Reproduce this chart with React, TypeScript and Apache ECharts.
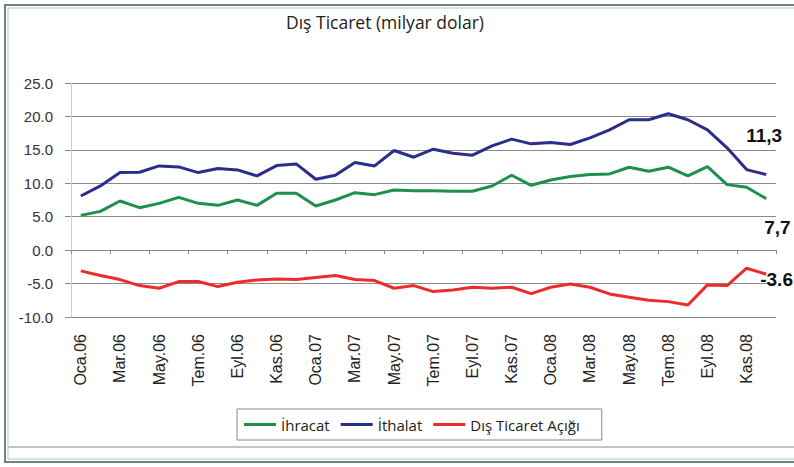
import React, { useEffect, useRef } from "react";
import * as echarts from "echarts";

const monthNames = ["Oca", "Şub", "Mar", "Nis", "May", "Haz", "Tem", "Ağu", "Eyl", "Eki", "Kas", "Ara"];
const years = ["06", "07", "08"];
const categories: string[] = [];
years.forEach((y) => monthNames.forEach((m) => categories.push(m + "." + y)));

const ihracat = [
  5.2, 5.8, 7.35, 6.35, 7.0, 7.9, 7.0, 6.7, 7.5, 6.7, 8.5, 8.5,
  6.6, 7.5, 8.6, 8.3, 9.0, 8.9, 8.9, 8.8, 8.8, 9.6, 11.2, 9.7,
  10.5, 11.0, 11.3, 11.4, 12.4, 11.8, 12.4, 11.1, 12.5, 9.8, 9.4, 7.7,
];
const ithalat = [
  8.1, 9.6, 11.6, 11.65, 12.6, 12.45, 11.6, 12.2, 12.0, 11.1, 12.65, 12.9,
  10.6, 11.2, 13.1, 12.6, 14.9, 13.9, 15.1, 14.5, 14.2, 15.6, 16.6, 15.9,
  16.1, 15.8, 16.8, 18.0, 19.5, 19.5, 20.4, 19.5, 18.0, 15.3, 12.05, 11.3,
];
const acik = [
  -3.1, -3.8, -4.4, -5.3, -5.7, -4.7, -4.7, -5.45, -4.8, -4.45, -4.3, -4.4,
  -4.1, -3.8, -4.4, -4.55, -5.7, -5.3, -6.2, -5.95, -5.55, -5.7, -5.55, -6.5,
  -5.55, -5.05, -5.55, -6.55, -7.05, -7.5, -7.7, -8.2, -5.2, -5.3, -2.7, -3.6,
];
const endLabels = ["7,7", "11,3", "-3.6"];
const seriesNames = ["İhracat", "İthalat", "Dış Ticaret Açığı"];
const yTicks = { min: -10, max: 25, interval: 5 };

export default function App() {
  const ref = useRef<HTMLDivElement>(null);
  useEffect(() => {
    if (!ref.current) return;
    const chart = echarts.init(ref.current, undefined, { renderer: "svg" });
    const colors = ["#1f8f4e", "#2b2d8c", "#ee2b2b"];
    const offsets: [number, number][] = [[-2, 29], [-20, -39], [-6, 5]];
    chart.setOption({
      animation: false,
      backgroundColor: "#ffffff",
      title: {
        text: "Dış Ticaret (milyar dolar)",
        left: 281,
        top: 8,
        textStyle: { fontFamily: "Open Sans, sans-serif", fontSize: 17.5, fontWeight: "normal", color: "#222" },
      },
      graphic: [
        { type: "rect", shape: { x: 5, y: 5, width: 800, height: 457 }, style: { fill: "none", stroke: "#6f8188", lineWidth: 2 }, silent: true },
        { type: "rect", shape: { x: 8, y: 8, width: 800, height: 451 }, style: { fill: "none", stroke: "#b9c4c8", lineWidth: 1 }, silent: true },
        { type: "line", shape: { x1: 8, y1: 447, x2: 794, y2: 447 }, style: { stroke: "#c4c4c4", lineWidth: 2 }, silent: true },
      ],
      legend: {
        data: seriesNames,
        left: 237,
        top: 409,
        padding: [8, 22, 8, 7],
        itemWidth: 32,
        itemHeight: 3,
        itemGap: 11,
        icon: "rect",
        borderColor: "#888",
        borderWidth: 1,
        textStyle: { fontFamily: "Open Sans, sans-serif", fontSize: 15, color: "#222" },
      },
      grid: { left: 71, right: 18, top: 83, bottom: 150, containLabel: false },
      xAxis: [
        {
          type: "category",
          data: categories,
          position: "bottom",
          boundaryGap: true,
          axisLine: { show: false, onZero: false },
          axisTick: { show: false },
          axisLabel: {
            interval: 1,
            rotate: 90,
            margin: 17,
            fontFamily: "Liberation Sans, Arial, sans-serif",
            fontSize: 16,
            color: "#222",
          },
        },
        {
          type: "category",
          data: categories,
          position: "bottom",
          boundaryGap: true,
          axisLine: { show: true, onZero: true, onZeroAxisIndex: 0, lineStyle: { color: "#8a8a8a" } },
          axisTick: { show: true, interval: 1, length: 4, lineStyle: { color: "#8a8a8a" } },
          axisLabel: { show: false },
        },
      ],
      yAxis: {
        type: "value",
        min: yTicks.min,
        max: yTicks.max,
        interval: yTicks.interval,
        axisLine: { show: true, lineStyle: { color: "#cfcfcf" } },
        axisTick: { show: true, length: 6, lineStyle: { color: "#8a8a8a" } },
        axisLabel: {
          margin: 18,
          formatter: (v: number) => v.toFixed(1),
          fontFamily: "Liberation Sans, Arial, sans-serif",
          fontSize: 15,
          color: "#333",
        },
        splitLine: { lineStyle: { color: "#8a8a8a", width: 1 } },
      },
      series: [ihracat, ithalat, acik].map((vals, idx) => ({
        name: seriesNames[idx],
        type: "line",
        xAxisIndex: 0,
        data: vals,
        symbol: "none",
        showSymbol: false,
        lineStyle: { width: 3, color: colors[idx] },
        itemStyle: { color: colors[idx] },
        endLabel: {
          show: true,
          formatter: endLabels[idx],
          distance: 0,
          offset: offsets[idx],
          fontFamily: "Liberation Sans, Arial, sans-serif",
          fontWeight: "bold",
          fontSize: 19,
          color: "#111",
        },
        z: 3,
      })),
    });
    return () => chart.dispose();
  }, []);
  return <div ref={ref} style={{ position: "fixed", left: 0, top: 0, width: 794, height: 467 }} />;
}
